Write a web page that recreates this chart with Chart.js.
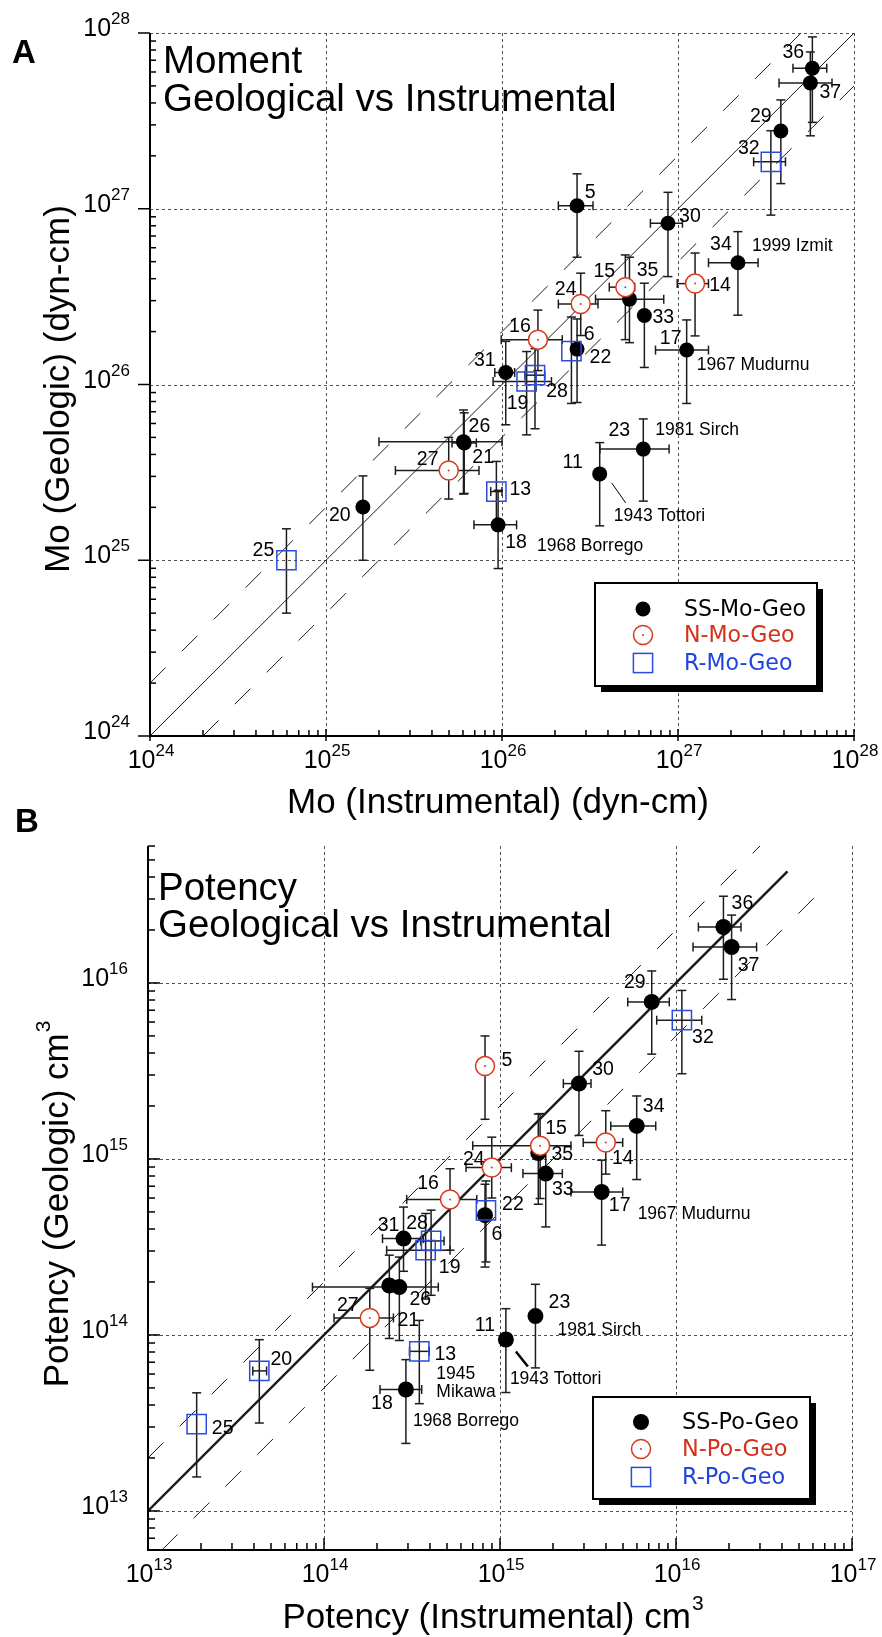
<!DOCTYPE html>
<html>
<head>
<meta charset="utf-8">
<script src="https://cdn.jsdelivr.net/npm/chart.js@4.4.1/dist/chart.umd.min.js"></script>
<style>
  html, body { margin: 0; padding: 0; background: #fff; }
  #wrap { position: relative; width: 882px; height: 1637px; }
  canvas { position: absolute; left: 0; }
  #cA { top: 0; }
  #cB { top: 790px; }
</style>
</head>
<body>
<div id="wrap">
  <canvas id="cA" width="882" height="830"></canvas>
  <canvas id="cB" width="882" height="847"></canvas>
</div>
<script>
// ---- Moment (dyn-cm) ----
const moIds     = [36, 37, 29, 32, 5, 30, 34, 14, 15, 35, 33, 24, 16, 6, 22, 17, 31, 28, 19, 26, 21, 27, 13, 18, 11, 23, 20, 25];
const moKind    = ['SS','SS','SS','R','SS','SS','SS','N','N','SS','SS','N','N','SS','R','SS','SS','R','R','SS','SS','N','R','SS','SS','SS','SS','R'];
const moInstr   = [5.8e27, 5.65e27, 3.84e27, 3.37e27, 2.67e26, 8.77e26, 2.19e27, 1.25e27, 5.02e26, 5.3e26, 6.44e26, 2.8e26, 1.6e26, 2.67e26, 2.48e26, 1.12e27, 1.05e26, 1.54e26, 1.38e26, 6.04e25, 6.1e25, 4.98e25, 9.29e25, 9.5e25, 3.59e26, 6.35e26, 1.62e25, 5.96e24];
const moGeo     = [6.3e27, 5.2e27, 2.77e27, 1.85e27, 1.04e27, 8.27e26, 4.93e26, 3.75e26, 3.58e26, 3.06e26, 2.47e26, 2.87e26, 1.8e26, 1.59e26, 1.55e26, 1.57e26, 1.17e26, 1.13e26, 1.04e26, 4.73e25, 4.65e25, 3.24e25, 2.46e25, 1.59e25, 3.1e25, 4.29e25, 2.01e25, 1.0e25];
const moInstrLo = [4.5e27, 3.75e27, null, 2.69e27, 2.09e26, 6.97e26, 1.49e27, 9.9e26, 4.07e26, 3.4e26, null, 2.09e26, 9.9e25, null, null, 7.45e26, 9.1e25, 1.35e26, 8.9e25, 2.0e25, 5.2e25, 2.48e25, 8.63e25, 6.93e25, null, 3.6e26, null, null];
const moInstrHi = [7.0e27, 7.5e27, null, 4.08e27, 3.29e26, 1.06e27, 2.85e27, 1.49e27, 5.67e26, 8.3e26, null, 3.51e26, 2.2e26, null, null, 1.49e27, 1.18e26, 1.75e26, 1.91e26, 1.0e26, 7.15e25, 7.4e25, 1.0e26, 1.21e26, null, 8.9e26, null, null];
const moGeoLo   = [3.1e27, 2.6e27, 1.39e27, 9.2e26, 5.3e26, 4.11e26, 2.48e26, 1.89e26, 1.8e26, 1.73e26, 1.25e26, 1.9e26, 1.2e26, 7.9e25, 7.8e25, 7.8e25, 5.9e25, 5.6e25, 5.17e25, 2.38e25, 2.4e25, 2.23e25, 1.65e25, 8.97e24, 1.57e25, 2.17e25, 1.0e25, 5.0e24];
const moGeoHi   = [9.5e27, 7.8e27, 4.16e27, 2.78e27, 1.58e27, 1.24e27, 7.41e26, 5.6e26, 5.46e26, 5.3e26, 3.77e26, 4.3e26, 2.65e26, 2.36e26, 2.42e26, 2.33e26, 1.76e26, 1.6e26, 1.54e26, 7.16e25, 6.9e25, 5.0e25, 3.65e25, 2.5e25, 4.67e25, 6.37e25, 3.02e25, 1.51e25];

// ---- Potency (cm^3) ----
const poIds     = [36, 37, 29, 32, 5, 30, 34, 14, 15, 35, 33, 24, 16, 6, 22, 17, 31, 28, 19, 26, 21, 27, 13, 18, 11, 23, 20, 25];
const poKind    = ['SS','SS','SS','R','N','SS','SS','N','N','SS','SS','N','N','SS','R','SS','SS','R','R','SS','SS','N','R','SS','SS','SS','R','R'];
const poInstr   = [1.86e16, 2.07e16, 7.28e15, 1.08e16, 8.22e14, 2.81e15, 5.98e15, 3.99e15, 1.69e15, 1.65e15, 1.82e15, 8.98e14, 5.2e14, 8.22e14, 8.32e14, 3.78e15, 2.83e14, 4.06e14, 3.78e14, 2.68e14, 2.35e14, 1.82e14, 3.48e14, 2.92e14, 1.08e15, 1.59e15, 4.29e13, 1.89e13];
const poGeo     = [2.08e16, 1.6e16, 7.8e15, 6.14e15, 3.37e15, 2.68e15, 1.54e15, 1.24e15, 1.19e15, 1.08e15, 8.26e14, 8.93e14, 5.89e14, 4.79e14, 5.1e14, 6.49e14, 3.53e14, 3.42e14, 3.03e14, 1.87e14, 1.91e14, 1.25e14, 8.07e13, 4.9e13, 9.42e13, 1.28e14, 6.25e13, 3.11e13];
const poInstrLo = [1.34e16, 1.25e16, 5.32e15, 7.77e15, null, 2.29e15, 4.26e15, 2.97e15, 7.0e14, null, 1.35e15, 6.41e14, 2.95e14, null, null, 2.53e15, 2.15e14, 3.54e14, 2.27e14, 8.6e13, null, 1.14e14, 3.06e14, 2.08e14, null, null, 3.94e13, null];
const poInstrHi = [2.34e16, 2.87e16, 9.16e15, 1.4e16, null, 3.29e15, 7.67e15, 4.98e15, 2.53e15, null, 2.26e15, 1.16e15, 7.38e14, null, null, 4.98e15, 3.67e14, 4.81e14, 5.2e14, 4.46e14, null, 2.48e14, 3.96e14, 3.59e14, null, null, 4.72e13, null];
const poGeoLo   = [1.05e16, 8.05e15, 3.94e15, 3.05e15, 1.68e15, 1.36e15, 7.64e14, 8.2e14, 5.96e14, 5.53e14, 4.11e14, 6.0e14, 3.03e14, 2.43e14, 2.6e14, 3.24e14, 2.3e14, 1.68e14, 1.6e14, 9.3e13, 9.55e13, 6.3e13, 4.07e13, 2.42e13, 4.71e13, 6.5e13, 3.16e13, 1.56e13];
const poGeoHi   = [3.11e16, 2.43e16, 1.17e16, 9.07e15, 5.0e15, 4.09e15, 2.28e15, 1.88e15, 1.81e15, 1.8e15, 1.2e15, 1.33e15, 8.8e14, 7.18e14, 7.5e14, 9.84e14, 5.33e14, 5.12e14, 4.9e14, 2.77e14, 2.84e14, 1.84e14, 1.21e14, 7.24e13, 1.41e14, 1.94e14, 9.4e13, 4.69e13];

// reference lines y = f * x, with the x span each one covers
const moGuides = [{ f: 1, from: 1e24, to: 1e28 }, { f: 2, from: 1e24, to: 5e27 }, { f: 0.5, from: 2e24, to: 1e28 }];
const poGuides = [{ f: 1, from: 1e13, to: 4.3e16 }, { f: 2, from: 1e13, to: 3e16 }, { f: 0.5, from: 1.2e13, to: 6.3e16 }];

const moSeriesNames = ['SS-Mo-Geo', 'N-Mo-Geo', 'R-Mo-Geo'];
const poSeriesNames = ['SS-Po-Geo', 'N-Po-Geo', 'R-Po-Geo'];

// number label offsets (px from marker centre)
const moLabelPos = {36:[-19,-16],37:[20,10],29:[-20,-14],32:[-22,-13],5:[13,-13],30:[22,-7],34:[-17,-18],14:[25,2],15:[-21,-16],35:[18,-29],33:[19,2],24:[-15,-14],16:[-18,-13],6:[12,-14],22:[29,7],17:[-16,-11],31:[-21,-12],28:[22,16],19:[-9,22],26:[16,-15],21:[19,15],27:[-21,-11],13:[24,-2],18:[18,18],11:[-27,-11],23:[-24,-18],20:[-23,9],25:[-23,-10]};
const poLabelPos = {36:[19,-23],37:[17,19],29:[-17,-19],32:[21,17],5:[22,-5],30:[24,-14],34:[17,-19],15:[16,-17],35:[24,2],14:[17,16],33:[17,16],17:[18,14],24:[-18,-8],16:[-22,-16],22:[27,-6],6:[12,19],31:[-15,-13],28:[-14,-17],19:[24,17],26:[21,13],21:[19,35],27:[-22,-12],13:[26,3],18:[-24,14],20:[22,-11],25:[26,4],11:[-21,-14],23:[24,-13]};

// event names, left aligned, attached to an earthquake number
const moNotes = [['1999 Izmit',34,14,-17],['1967 Mudurnu',17,10,15],['1981 Sirch',23,12,-19],['1943 Tottori',11,14,42],['1968 Borrego',18,39,21]];
const poNotes = [['1967 Mudurnu',17,36,22],['1981 Sirch',23,22,14],['1943 Tottori',11,4,40],['1945',13,17,23],['Mikawa',13,17,41],['1968 Borrego',18,7,32]];

const SANS = "'Liberation Sans', Arial, Helvetica, sans-serif";
const RED = '#d8381c';
const BLUE = '#2a4bdc';
const BAR = '#1c1c1c';

function seriesOf(P, kind) {
  const out = [];
  P.ids.forEach((id, i) => { if (P.kind[i] === kind) out.push({ x: P.x[i], y: P.y[i] }); });
  return out;
}

function makeDatasets(P, names, guides, dot, guideW) {
  const ds = [
    { label: names[0], data: seriesOf(P, 'SS'), pointStyle: 'circle', pointRadius: dot, backgroundColor: '#000', borderColor: '#000', borderWidth: 0, order: 3 },
    { label: names[1], data: seriesOf(P, 'N'), pointStyle: 'circle', pointRadius: 9.5, backgroundColor: '#fff', borderColor: RED, borderWidth: 1.5, order: 2 },
    { label: '', data: seriesOf(P, 'N'), pointStyle: 'circle', pointRadius: 1, backgroundColor: RED, borderWidth: 0, order: 1 },
    { label: names[2], data: seriesOf(P, 'R'), pointStyle: 'rect', pointRadius: 13.6, backgroundColor: 'rgba(0,0,0,0)', borderColor: BLUE, borderWidth: 1.5, order: 0 }
  ];
  guides.forEach(g => {
    ds.push({
      label: '', data: [{ x: g.from, y: g.f * g.from }, { x: g.to, y: g.f * g.to }],
      showLine: true, pointRadius: 0, borderColor: '#1a1a1a',
      borderWidth: g.f === 1 ? guideW : 1, borderDash: g.f === 1 ? [] : [22, 23], order: 5
    });
  });
  return ds;
}

function seg(ctx, x1, y1, x2, y2) { ctx.beginPath(); ctx.moveTo(x1, y1); ctx.lineTo(x2, y2); ctx.stroke(); }

function drawPow(ctx, exp, x, y, mode) {
  ctx.font = '25px ' + SANS; const w1 = ctx.measureText('10').width;
  ctx.font = '17px ' + SANS; const w2 = ctx.measureText(String(exp)).width;
  const left = mode === 'right' ? x - w1 - w2 : x - (w1 + w2) / 2 + 1;
  ctx.textAlign = 'left'; ctx.textBaseline = 'alphabetic';
  ctx.font = '25px ' + SANS; ctx.fillText('10', left, y);
  ctx.font = '17px ' + SANS; ctx.fillText(String(exp), left + w1, y - 12);
}

function makeFrame(F) {
  return {
    id: 'frame' + F.letter,
    beforeDatasetsDraw(chart) {
      const { ctx, chartArea: a } = chart;
      const xs = chart.scales.x, ys = chart.scales.y, P = F.data;
      ctx.save();
      // dashed decade grid
      ctx.strokeStyle = '#505050'; ctx.lineWidth = 1; ctx.setLineDash([3, 3]);
      for (let e = F.xExp[0]; e <= F.xExp[1]; e++) {
        const px = Math.round(xs.getPixelForValue(Math.pow(10, e))) + 0.5;
        if (px - a.left < 2) continue;
        seg(ctx, px, a.top, px, a.bottom);
      }
      for (let e = F.yExp[0]; e <= F.yExp[1]; e++) {
        const py = Math.round(ys.getPixelForValue(Math.pow(10, e))) + 0.5;
        if (a.bottom - py < 2) continue;
        seg(ctx, a.left, py, a.right, py);
      }
      ctx.setLineDash([]);
      // error bars
      ctx.strokeStyle = BAR; ctx.lineWidth = 1.5;
      const cap = 4.5;
      P.ids.forEach((id, i) => {
        const cx = xs.getPixelForValue(P.x[i]), cy = ys.getPixelForValue(P.y[i]);
        if (P.yLo[i] != null) {
          const y1 = ys.getPixelForValue(P.yLo[i]), y2 = ys.getPixelForValue(P.yHi[i]);
          seg(ctx, cx, y1, cx, y2);
          seg(ctx, cx - cap, y1, cx + cap, y1);
          seg(ctx, cx - cap, y2, cx + cap, y2);
        }
        if (P.xLo[i] != null) {
          const x1 = xs.getPixelForValue(P.xLo[i]), x2 = xs.getPixelForValue(P.xHi[i]);
          seg(ctx, x1, cy, x2, cy);
          seg(ctx, x1, cy - cap, x1, cy + cap);
          seg(ctx, x2, cy - cap, x2, cy + cap);
        }
      });
      ctx.restore();
    },
    afterDatasetsDraw(chart) {
      const { ctx, chartArea: a } = chart;
      const xs = chart.scales.x, ys = chart.scales.y, P = F.data;
      ctx.save();
      ctx.fillStyle = '#000'; ctx.strokeStyle = '#000';

      // axes
      ctx.lineWidth = 2;
      seg(ctx, a.left, a.top, a.left, a.bottom + 1);
      seg(ctx, a.left - 1, a.bottom, a.right + 1, a.bottom);

      // ticks
      ctx.lineWidth = 1.5;
      const yMin = ys.min, yMax = ys.max, xMin = xs.min, xMax = xs.max;
      for (let e = Math.floor(Math.log10(yMin)); e <= Math.ceil(Math.log10(yMax)); e++) {
        for (let m = 1; m <= 9; m++) {
          const v = m * Math.pow(10, e);
          if (v < yMin * 0.999 || v > yMax * 1.001) continue;
          const py = ys.getPixelForValue(v);
          if (m === 1) {
            seg(ctx, a.left - F.yMajorOut, py, a.left + F.yMajorIn, py);
            drawPow(ctx, e, a.left - 20, py + 3, 'right');
          } else {
            seg(ctx, a.left, py, a.left + F.minorIn, py);
          }
        }
      }
      for (let e = Math.floor(Math.log10(xMin)); e <= Math.ceil(Math.log10(xMax)); e++) {
        for (let m = 1; m <= 9; m++) {
          const v = m * Math.pow(10, e);
          if (v < xMin * 0.999 || v > xMax * 1.001) continue;
          const px = xs.getPixelForValue(v);
          if (m === 1) {
            seg(ctx, px, a.bottom + F.xMajorOut, px, a.bottom - F.xMajorIn);
            drawPow(ctx, e, px, a.bottom + 32, 'center');
          } else {
            seg(ctx, px, a.bottom, px, a.bottom - F.minorIn);
          }
        }
      }

      // earthquake numbers
      ctx.font = '19.5px ' + SANS; ctx.textAlign = 'center'; ctx.textBaseline = 'middle';
      const pix = {};
      P.ids.forEach((id, i) => {
        pix[id] = [xs.getPixelForValue(P.x[i]), ys.getPixelForValue(P.y[i])];
        const o = F.labelPos[id];
        ctx.fillText(String(id), pix[id][0] + o[0], pix[id][1] + o[1]);
      });
      // event names
      ctx.font = '17.5px ' + SANS; ctx.textAlign = 'left';
      F.notes.forEach(n => { const p = pix[n[1]]; ctx.fillText(n[0], p[0] + n[2], p[1] + n[3]); });
      const L = F.leader, lp = pix[L.id];
      ctx.lineWidth = L.w;
      seg(ctx, lp[0] + L.from[0], lp[1] + L.from[1], lp[0] + L.to[0], lp[1] + L.to[1]);

      // panel title
      ctx.font = '38.5px ' + SANS; ctx.textBaseline = 'alphabetic';
      ctx.fillText(F.title[0], F.titleX, F.titleY[0]);
      ctx.fillText(F.title[1], F.titleX, F.titleY[1]);
      ctx.font = 'bold 33px ' + SANS;
      ctx.fillText(F.letter, F.letterX, F.letterY);

      // axis titles
      ctx.font = '35px ' + SANS;
      const xt = F.xTitle;
      const wx = ctx.measureText(xt.text).width;
      ctx.font = '21px ' + SANS;
      const sx = xt.sup ? ctx.measureText(xt.sup).width + 1 : 0;
      const x0 = xt.x - (wx + sx) / 2;
      ctx.font = '35px ' + SANS; ctx.fillText(xt.text, x0, xt.y);
      if (xt.sup) { ctx.font = '21px ' + SANS; ctx.fillText(xt.sup, x0 + wx + 1, xt.y - 18); }

      const yt = F.yTitle;
      ctx.font = '35px ' + SANS;
      const wy = ctx.measureText(yt.text).width;
      ctx.font = '21px ' + SANS;
      const sy = yt.sup ? ctx.measureText(yt.sup).width + 1 : 0;
      ctx.save();
      ctx.translate(yt.x, yt.y + (wy + sy) / 2);
      ctx.rotate(-Math.PI / 2);
      ctx.font = '35px ' + SANS; ctx.fillText(yt.text, 0, 0);
      if (yt.sup) { ctx.font = '21px ' + SANS; ctx.fillText(yt.sup, wy + 1, -18); }
      ctx.restore();

      // legend box with drop shadow
      const G = F.legend;
      ctx.fillStyle = '#000';
      ctx.fillRect(G.x + 6, G.y + 6, G.w, G.h);
      ctx.fillStyle = '#fff';
      ctx.fillRect(G.x, G.y, G.w, G.h);
      ctx.lineWidth = 2; ctx.strokeStyle = '#000';
      ctx.strokeRect(G.x, G.y, G.w, G.h);
      const names = F.names, colors = ['#000', '#d4301a', '#1f44de'];
      // size the legend font so the first entry spans its measured width
      const LF = '"DejaVu Sans", ' + SANS;
      ctx.font = '22px ' + LF;
      const fit = Math.max(19, Math.min(25, 22 * G.textW / ctx.measureText(names[0]).width));
      ctx.font = fit.toFixed(1) + 'px ' + LF; ctx.textBaseline = 'middle'; ctx.textAlign = 'left';
      names.forEach((nm, k) => {
        const my = G.rows[k];
        ctx.lineWidth = 1.5;
        if (k === 0) {
          ctx.fillStyle = '#000'; ctx.beginPath(); ctx.arc(G.markX, my, F.dot, 0, Math.PI * 2); ctx.fill();
        } else if (k === 1) {
          ctx.strokeStyle = RED; ctx.beginPath(); ctx.arc(G.markX, my, 9.5, 0, Math.PI * 2); ctx.stroke();
          ctx.fillStyle = RED; ctx.beginPath(); ctx.arc(G.markX, my, 1, 0, Math.PI * 2); ctx.fill();
        } else {
          ctx.strokeStyle = BLUE; ctx.strokeRect(G.markX - 9.6, my - 9.6, 19.2, 19.2);
        }
        ctx.fillStyle = colors[k];
        ctx.fillText(nm, G.textX, my + 1);
      });
      ctx.restore();
    }
  };
}

function chartOptions(pad, xr, yr) {
  return {
    responsive: false,
    animation: false,
    devicePixelRatio: 1,
    layout: { padding: pad },
    plugins: { legend: { display: false }, tooltip: { enabled: false } },
    scales: {
      x: { type: 'logarithmic', min: xr[0], max: xr[1], display: false },
      y: { type: 'logarithmic', min: yr[0], max: yr[1], display: false }
    }
  };
}

const panelMo = { ids: moIds, kind: moKind, x: moInstr, y: moGeo, xLo: moInstrLo, xHi: moInstrHi, yLo: moGeoLo, yHi: moGeoHi };
const panelPo = { ids: poIds, kind: poKind, x: poInstr, y: poGeo, xLo: poInstrLo, xHi: poInstrHi, yLo: poGeoLo, yHi: poGeoHi };

new Chart(document.getElementById('cA'), {
  type: 'scatter',
  data: { datasets: makeDatasets(panelMo, moSeriesNames, moGuides, 7.5, 1) },
  options: chartOptions({ left: 150, right: 28, top: 33, bottom: 94 }, [1e24, 1e28], [1e24, 1e28]),
  plugins: [makeFrame({
    letter: 'A', data: panelMo, labelPos: moLabelPos, notes: moNotes, names: moSeriesNames, dot: 7.5,
    leader: { id: 11, from: [12, 9], to: [26, 29], w: 1 },
    xExp: [24, 28], yExp: [24, 28], yMajorOut: 12, yMajorIn: 0, xMajorOut: 5, xMajorIn: 7, minorIn: 6,
    title: ['Moment', 'Geological vs Instrumental'], titleX: 163, titleY: [73, 111],
    letterX: 12, letterY: 63,
    xTitle: { text: 'Mo (Instrumental) (dyn-cm)', x: 498, y: 813 },
    yTitle: { text: 'Mo (Geologic) (dyn-cm)', x: 69, y: 389 },
    legend: { x: 595, y: 583, w: 222, h: 103, markX: 643, rows: [609, 635, 663], textX: 684, textW: 122 }
  })]
});

new Chart(document.getElementById('cB'), {
  type: 'scatter',
  data: { datasets: makeDatasets(panelPo, poSeriesNames, poGuides, 8, 2.5) },
  options: chartOptions({ left: 148, right: 30, top: 56, bottom: 87 }, [1e13, 1e17], [6e12, 6e16]),
  plugins: [makeFrame({
    letter: 'B', data: panelPo, labelPos: poLabelPos, notes: poNotes, names: poSeriesNames, dot: 8,
    leader: { id: 11, from: [10, 12], to: [22, 27], w: 2.5 },
    xExp: [13, 17], yExp: [13, 16], yMajorOut: 0, yMajorIn: 12, xMajorOut: 0, xMajorIn: 12, minorIn: 7,
    title: ['Potency', 'Geological vs Instrumental'], titleX: 158, titleY: [110, 147],
    letterX: 15, letterY: 42,
    xTitle: { text: 'Potency (Instrumental) cm', sup: '3', x: 493, y: 838 },
    yTitle: { text: 'Potency (Geologic) cm', sup: '3', x: 68, y: 414 },
    legend: { x: 593, y: 607, w: 217, h: 102, markX: 641, rows: [632, 659, 687], textX: 682, textW: 117 }
  })]
});
</script>
</body>
</html>
